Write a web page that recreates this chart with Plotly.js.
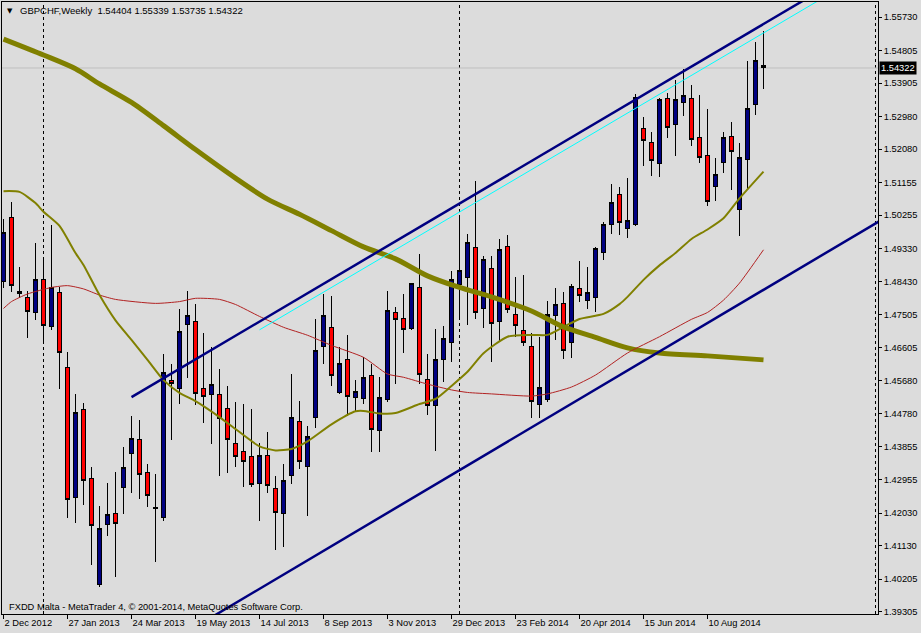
<!DOCTYPE html>
<html><head><meta charset="utf-8">
<script src="https://cdn.plot.ly/plotly-3.0.1.min.js"></script>
<style>html,body{margin:0;padding:0;background:#DCDCDC;}#chart{width:921px;height:633px;}
#chart .boxlayer path{shape-rendering:crispEdges;}</style>
</head><body><div id="chart"></div>
<script>
// Weekly GBPCHF candles, first week starting 2 Dec 2012
const firstWeek = Date.UTC(2012, 11, 2);
const openP  = [1.4842,1.5020,1.4816,1.4797,1.4756,1.4849,1.4718,1.4813,1.4606,1.4245,1.4490,1.4297,1.4005,1.4172,1.4203,1.4273,1.4367,1.4405,1.4316,1.4217,
1.4190,1.4570,1.4547,1.4724,1.4733,1.4548,1.4530,1.4531,1.4492,1.4396,1.4372,1.4358,1.4284,1.4363,1.4272,1.4201,1.4306,1.4456,1.4331,1.4466,
1.4663,1.4716,1.4535,1.4626,1.4521,1.4518,1.4582,1.4430,1.4516,1.4758,1.4739,1.4712,1.4827,1.4573,1.4499,1.4626,1.4675,1.4833,1.4853,1.4937,
1.4768,1.4877,1.4732,1.4940,1.4752,1.4708,1.4664,1.4503,1.4516,1.4748,1.4783,1.4675,1.4824,1.4791,1.4799,1.4923,1.5001,1.5084,1.4989,1.5001,
1.5264,1.5227,1.5168,1.5349,1.5276,1.5336,1.5349,1.5239,1.5191,1.5104,1.5171,1.5244,1.5041,1.5179,1.5331,1.54404];
const highP  = [1.5014,1.5062,1.4883,1.4816,1.4949,1.4907,1.4999,1.4828,1.4648,1.4532,1.4508,1.4330,1.4222,1.4286,1.4316,1.4385,1.4471,1.4460,1.4339,1.4311,
1.4642,1.4615,1.4766,1.4817,1.4780,1.4701,1.4661,1.4601,1.4554,1.4510,1.4504,1.4490,1.4396,1.4426,1.4305,1.4339,1.4587,1.4512,1.4443,1.4738,
1.4807,1.4802,1.4661,1.4695,1.4570,1.4633,1.4614,1.4579,1.4816,1.4772,1.4808,1.4839,1.4918,1.4642,1.4711,1.4720,1.4872,1.5021,1.4974,1.5120,
1.4913,1.4913,1.4960,1.4971,1.4855,1.4860,1.4699,1.4690,1.4789,1.4825,1.4813,1.4835,1.4899,1.4883,1.4939,1.5007,1.5113,1.5104,1.5128,1.5360,
1.5296,1.5255,1.5349,1.5362,1.5399,1.5429,1.5385,1.5358,1.5318,1.5183,1.5256,1.5282,1.5225,1.5452,1.5504,1.55339];
const lowP   = [1.4824,1.4813,1.4796,1.4687,1.4736,1.4679,1.4709,1.4546,1.4190,1.4176,1.4225,1.4060,1.3999,1.4140,1.4026,1.4201,1.4259,1.4243,1.4221,1.4069,
1.4182,1.4406,1.4505,1.4577,1.4500,1.4453,1.4395,1.4306,1.4314,1.4331,1.4276,1.4276,1.4182,1.4259,1.4101,1.4110,1.4284,1.4325,1.4196,1.4439,
1.4615,1.4555,1.4532,1.4472,1.4481,1.4504,1.4372,1.4372,1.4511,1.4560,1.4646,1.4709,1.4560,1.4475,1.4375,1.4564,1.4620,1.4744,1.4721,1.4740,
1.4715,1.4621,1.4676,1.4755,1.4690,1.4665,1.4465,1.4466,1.4511,1.4681,1.4629,1.4630,1.4785,1.4767,1.4759,1.4901,1.4974,1.4972,1.4962,1.4996,
1.5162,1.5135,1.5132,1.5240,1.5189,1.5300,1.5218,1.5171,1.5051,1.5066,1.5141,1.5095,1.4969,1.5095,1.5303,1.53735];
const closeP = [1.4979,1.4831,1.4809,1.4759,1.4849,1.4721,1.4825,1.4646,1.4240,1.4481,1.4292,1.4168,1.4159,1.4200,1.4175,1.4330,1.4410,1.4310,1.4251,1.4216,
1.4592,1.4560,1.4703,1.4749,1.4533,1.4524,1.4557,1.4464,1.4406,1.4359,1.4345,1.4281,1.4363,1.4279,1.4205,1.4294,1.4468,1.4345,1.4415,1.4653,
1.4749,1.4582,1.4617,1.4526,1.4540,1.4576,1.4433,1.4523,1.4761,1.4737,1.4711,1.4836,1.4585,1.4500,1.4628,1.4684,1.4849,1.4874,1.4949,1.4757,
1.4902,1.4726,1.4932,1.4766,1.4722,1.4675,1.4512,1.4550,1.4752,1.4780,1.4652,1.4830,1.4804,1.4813,1.4934,1.5001,1.5062,1.5006,1.5010,1.5352,
1.5232,1.5177,1.5344,1.5267,1.5344,1.5355,1.5235,1.5184,1.5064,1.5137,1.5239,1.5201,1.5184,1.5321,1.5454,1.54322];

// Moving averages read at selected weeks (week index, value)
const maFastWeek = [0,2,4,5,7,9,10,12,14,16,18,20,22,24,27,29,32,34,36,38,41,44,45,47,49,52,54,56,58,60,63,66,68,70,72,75,77,78,80,82,84,86,88,90,92,95];
const maFast     = [1.5092,1.5090,1.5059,1.5035,1.4996,1.4921,1.4888,1.4805,1.4735,1.4681,1.4626,1.4570,1.4535,1.4512,1.4468,1.4435,1.4387,1.4376,1.4380,1.4401,1.4448,1.4484,1.4485,1.4478,1.4479,1.4504,1.4518,1.4554,1.4593,1.4644,1.4690,1.4695,1.4695,1.4717,1.4739,1.4753,1.4780,1.4800,1.4847,1.4887,1.4921,1.4960,1.4986,1.5017,1.5072,1.5146];
const maMidWeek  = [0,1,3,6,8,10,12,14,19,22,24,27,29,32,35,38,41,45,48,50,53,56,58,61,66,68,71,74,78,82,86,88,90,92,95];
const maMid      = [1.4768,1.4787,1.4808,1.4826,1.4831,1.4822,1.4805,1.4793,1.4782,1.4787,1.4796,1.4793,1.4779,1.4746,1.4716,1.4694,1.4666,1.4633,1.4587,1.4578,1.4559,1.4543,1.4536,1.4532,1.4526,1.4532,1.4551,1.4584,1.4645,1.4690,1.4738,1.4757,1.4791,1.4838,1.4930];
const maSlowWeek = [0,5,9,12,16,20,24,29,33,37,41,45,49,53,57,61,66,70,74,78,82,88,95];
const maSlow     = [1.5512,1.5468,1.5430,1.5388,1.5337,1.5273,1.5207,1.5128,1.5070,1.5028,1.4983,1.4938,1.4905,1.4858,1.4826,1.4800,1.4761,1.4717,1.4688,1.4659,1.4645,1.4637,1.4626];

// Trend channel (week index, price)
const chanUpperWeek = [16, 104];  const chanUpper = [1.4523, 1.5671];
const chanInnerWeek = [32, 104];  const chanInner = [1.4709, 1.5646];
const chanLowerWeek = [26, 110];  const chanLower = [1.3915, 1.5016];

const priceTicks = [1.39305,1.40205,1.41130,1.42030,1.42955,1.43855,1.44780,1.45680,1.46605,1.47505,1.48430,1.49330,1.50255,1.51155,1.52080,1.52980,1.53905,1.54805,1.55730];
const dateTickWeek = [0,8,16,24,32,40,48,56,64,72,80,88];
const dateTickText = ['2 Dec 2012','27 Jan 2013','24 Mar 2013','19 May 2013','14 Jul 2013','8 Sep 2013','3 Nov 2013','29 Dec 2013','23 Feb 2014','20 Apr 2014','15 Jun 2014','10 Aug 2014'];
const separatorWeek = [5, 57, 109];
const lastPrice = 1.54322;
const headerText = 'GBPCHF,Weekly  1.54404 1.55339 1.53735 1.54322';
const footerText = 'FXDD Malta - MetaTrader 4, © 2001-2014, MetaQuotes Software Corp.';

function wk(i){ return new Date(firstWeek + i*7*86400000).toISOString().slice(0,19).replace('T',' '); }
const weeks = openP.map((_, i) => wk(i));

const FONT = 'Liberation Sans, Arial, sans-serif';
const traces = [
  {type:'candlestick', x:weeks, open:openP, high:highP, low:lowP, close:closeP,
   increasing:{line:{color:'#000000', width:1}, fillcolor:'#000080'},
   decreasing:{line:{color:'#000000', width:1}, fillcolor:'#FF0000'},
   whiskerwidth:0, hoverinfo:'skip', showlegend:false},
  {type:'scatter', mode:'lines', x:maSlowWeek.map(wk), y:maSlow, line:{color:'#808000', width:5, shape:'spline', smoothing:0.8}, hoverinfo:'skip', showlegend:false},
  {type:'scatter', mode:'lines', x:maMidWeek.map(wk), y:maMid, line:{color:'#B22222', width:1, shape:'spline', smoothing:0.6}, hoverinfo:'skip', showlegend:false},
  {type:'scatter', mode:'lines', x:maFastWeek.map(wk), y:maFast, line:{color:'#808000', width:2, shape:'spline', smoothing:0.6}, hoverinfo:'skip', showlegend:false},
  {type:'scatter', mode:'lines', x:chanUpperWeek.map(wk), y:chanUpper, line:{color:'#000080', width:2.5}, hoverinfo:'skip', showlegend:false},
  {type:'scatter', mode:'lines', x:chanInnerWeek.map(wk), y:chanInner, line:{color:'#00FFFF', width:1}, hoverinfo:'skip', showlegend:false},
  {type:'scatter', mode:'lines', x:chanLowerWeek.map(wk), y:chanLower, line:{color:'#000080', width:2.5}, hoverinfo:'skip', showlegend:false}
];

const shapes = separatorWeek.map(w => ({type:'line', xref:'x', yref:'paper', x0:wk(w), x1:wk(w), y0:0, y1:1,
  line:{color:'#000000', width:1, dash:'3px,3px'}, layer:'below'}));
shapes.push({type:'line', xref:'paper', yref:'y', x0:0, x1:1, y0:lastPrice, y1:lastPrice, line:{color:'#C0C0C0', width:1}, layer:'below'});

const W = 876, H = 612;
const layout = {
  width:921, height:633,
  margin:{l:2, r:43, t:2, b:19, pad:0},
  paper_bgcolor:'#DCDCDC', plot_bgcolor:'#DCDCDC',
  font:{family:FONT, size:9.3, color:'#000000'},
  hovermode:false, showlegend:false, boxgap:0.42,
  xaxis:{type:'date', range:['2012-11-30 16:30','2015-01-06 04:30'], rangeslider:{visible:false},
    showgrid:false, zeroline:false, showline:true, mirror:true, linecolor:'#000000', linewidth:1,
    ticks:'outside', ticklen:4, tickcolor:'#000000', tickwidth:1,
    tickvals:dateTickWeek.map(wk), ticktext:dateTickText, ticklabelposition:'outside right',
    tickfont:{family:FONT, size:9.3, color:'#000000'}, fixedrange:true},
  yaxis:{range:[1.3924086, 1.561443], side:'right', showgrid:false, zeroline:false,
    showline:true, mirror:true, linecolor:'#000000', linewidth:1,
    ticks:'outside', ticklen:3, tickcolor:'#000000', tickwidth:1,
    tickvals:priceTicks, ticktext:priceTicks.map(v => v.toFixed(5)),
    tickfont:{family:FONT, size:9.3, color:'#000000'}, fixedrange:true},
  shapes:shapes,
  annotations:[
    {xref:'paper', yref:'paper', x:(9.5-2)/W, y:(614-11)/H, xanchor:'center', yanchor:'middle', text:'▼', showarrow:false, font:{family:'DejaVu Sans', size:7, color:'#000000'}},
    {xref:'paper', yref:'paper', x:(18-2)/W, y:(614-11)/H, xanchor:'left', yanchor:'middle', text:headerText, showarrow:false, font:{family:FONT, size:9.5, color:'#000000'}},
    {xref:'paper', yref:'paper', x:(7-2)/W, y:(614-607)/H, xanchor:'left', yanchor:'middle', text:footerText, showarrow:false, font:{family:FONT, size:9.3, color:'#000000'}},
    {xref:'paper', yref:'y', x:1, y:lastPrice, xanchor:'left', yanchor:'middle', xshift:1, text:lastPrice.toFixed(5), showarrow:false,
     bgcolor:'#000000', borderpad:1, font:{family:FONT, size:9.3, color:'#FFFFFF'}}
  ]
};
Plotly.newPlot('chart', traces, layout, {displayModeBar:false, staticPlot:true});
</script></body></html>
